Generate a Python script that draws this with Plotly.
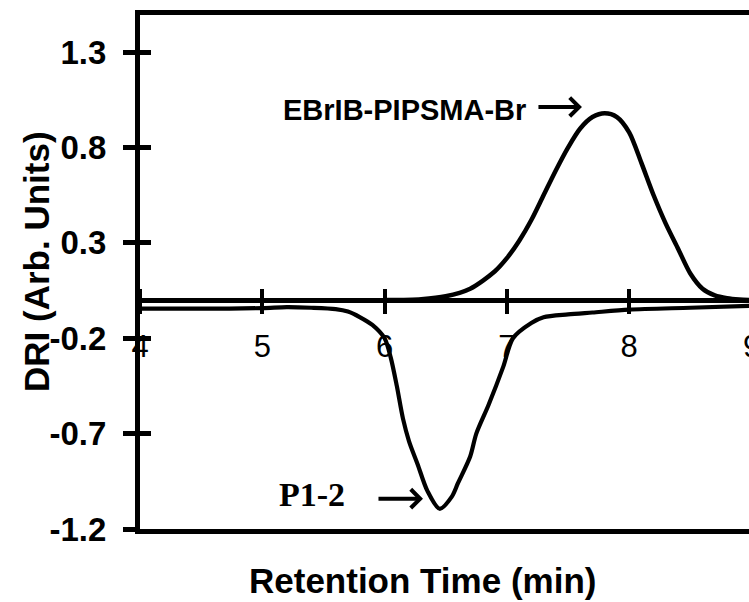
import plotly.graph_objects as go

# ---- data ----
upper_x = [4.0, 5.0, 6.0, 6.3, 6.5, 6.7, 6.9, 7.0, 7.1, 7.2, 7.3, 7.4, 7.5, 7.6, 7.7, 7.8,
           7.9, 8.0, 8.1, 8.2, 8.3, 8.4, 8.5, 8.6, 8.7, 8.8, 8.9, 9.0]
upper_y = [0.0, 0.0, 0.0, 0.005, 0.02, 0.06, 0.15, 0.22, 0.31, 0.42, 0.55, 0.68, 0.80, 0.90,
           0.96, 0.98, 0.96, 0.88, 0.72, 0.55, 0.40, 0.27, 0.14, 0.06, 0.025, 0.01, 0.003, 0.0]

lower_x = [4.0, 4.5, 5.0, 5.2, 5.4, 5.6, 5.7, 5.8, 5.9, 6.0, 6.05, 6.1, 6.15, 6.2, 6.27, 6.35,
           6.45, 6.55, 6.6, 6.7, 6.75, 6.85, 6.97, 7.05, 7.2, 7.3, 7.5, 7.7, 8.0, 8.5, 9.0]
lower_y = [-0.045, -0.045, -0.042, -0.037, -0.04, -0.047, -0.06, -0.09, -0.13, -0.2, -0.3, -0.45,
           -0.62, -0.74, -0.86, -1.0, -1.094, -1.03, -0.96, -0.82, -0.7, -0.55, -0.35, -0.2,
           -0.12, -0.09, -0.075, -0.065, -0.05, -0.04, -0.03]

x_ticks = [4, 5, 6, 7, 8, 9]
y_ticks = [-1.2, -0.7, -0.2, 0.3, 0.8, 1.3]
y_ticktext = ["-1.2", "-0.7", "-0.2", "0.3", "0.8", "1.3"]

x_range = [4.0, 8.98]
y_range = [-1.2, 1.495]

label_upper = "EBrIB-PIPSMA-Br"
label_lower = "P1-2"
x_title = "Retention Time (min)"
y_title = "DRI (Arb. Units)"

SANS = "Liberation Sans, Arial, sans-serif"
SERIF = "Liberation Serif, Times New Roman, serif"

fig = go.Figure()
fig.add_trace(go.Scatter(x=upper_x, y=upper_y, mode="lines",
                         line=dict(color="black", width=4.5, shape="spline", smoothing=0.8),
                         hoverinfo="skip"))
fig.add_trace(go.Scatter(x=lower_x, y=lower_y, mode="lines",
                         line=dict(color="black", width=4.2, shape="spline", smoothing=0.8),
                         hoverinfo="skip"))
# helper (empty) traces to instantiate the overlay axes
fig.add_trace(go.Scatter(x=[], y=[], xaxis="x2", yaxis="y", hoverinfo="skip"))
fig.add_trace(go.Scatter(x=[], y=[], xaxis="x3", yaxis="y", hoverinfo="skip"))
fig.add_trace(go.Scatter(x=[], y=[], xaxis="x", yaxis="y2", hoverinfo="skip"))

zero_pos = (0 - y_range[0]) / (y_range[1] - y_range[0])

fig.update_layout(
    width=749, height=602,
    margin=dict(l=140, r=0, t=15, b=73),
    paper_bgcolor="white", plot_bgcolor="white",
    showlegend=False,
    xaxis=dict(range=x_range, showline=True, linewidth=5, linecolor="black", mirror=True,
               ticks="", showticklabels=False, showgrid=False, zeroline=False),
    xaxis2=dict(range=x_range, overlaying="x", anchor="free", position=zero_pos, side="bottom",
                showline=True, linewidth=5, linecolor="black",
                ticks="outside", ticklen=11, tickwidth=4, tickcolor="black",
                tickvals=x_ticks, ticklabelstandoff=6,
                tickfont=dict(family=SANS, size=31, color="black"),
                showgrid=False, zeroline=False),
    xaxis3=dict(range=x_range, overlaying="x", anchor="free", position=zero_pos, side="top",
                showline=False, ticks="outside", ticklen=11, tickwidth=4, tickcolor="black",
                tickvals=x_ticks, showticklabels=False, showgrid=False, zeroline=False),
    yaxis=dict(range=y_range, showline=True, linewidth=5, linecolor="black",
               ticks="outside", ticklen=12, tickwidth=5, tickcolor="black",
               tickvals=y_ticks, ticktext=y_ticktext, ticklabelstandoff=10,
               tickfont=dict(family=SANS, size=33, color="black", weight="bold"),
               showgrid=False, zeroline=False),
    yaxis2=dict(range=y_range, overlaying="y", anchor="x", side="left",
                showline=False, ticks="inside", ticklen=11, tickwidth=5, tickcolor="black",
                tickvals=y_ticks, showticklabels=False, showgrid=False, zeroline=False),
)

fig.add_annotation(xref="paper", yref="paper", x=(751 - 140) / 609, y=zero_pos,
                   xanchor="center", yanchor="middle",
                   yshift=-46, text="9", showarrow=False,
                   font=dict(family=SANS, size=31, color="black"))

# axis titles
fig.add_annotation(xref="paper", yref="paper", x=(422 - 140) / 609, y=(529 - 580) / 514,
                   xanchor="center", yanchor="middle",
                   text=x_title, showarrow=False,
                   font=dict(family=SANS, size=35, color="black", weight="bold"))
fig.add_annotation(xref="paper", yref="paper", x=(36 - 140) / 609, y=(529 - 261) / 514,
                   xanchor="center", yanchor="middle",
                   text=y_title, textangle=-90, showarrow=False,
                   font=dict(family=SANS, size=35, color="black", weight="bold"))

# curve labels with arrows
fig.add_annotation(x=6.16, y=0.997, text=label_upper, showarrow=False,
                   xanchor="center", yanchor="middle",
                   font=dict(family=SANS, size=29, color="black", weight="bold"))
fig.add_annotation(x=7.614, y=1.013, ax=-45, ay=0, text="", showarrow=True,
                   arrowhead=4, arrowsize=0.9, arrowwidth=4, arrowcolor="black")
fig.add_annotation(x=5.41, y=-1.02, text=label_lower, showarrow=False,
                   xanchor="center", yanchor="middle",
                   font=dict(family=SERIF, size=34, color="black", weight="bold"))
fig.add_annotation(x=6.314, y=-1.041, ax=-46, ay=0, text="", showarrow=True,
                   arrowhead=4, arrowsize=0.9, arrowwidth=4, arrowcolor="black")

fig.write_html("out.html")
